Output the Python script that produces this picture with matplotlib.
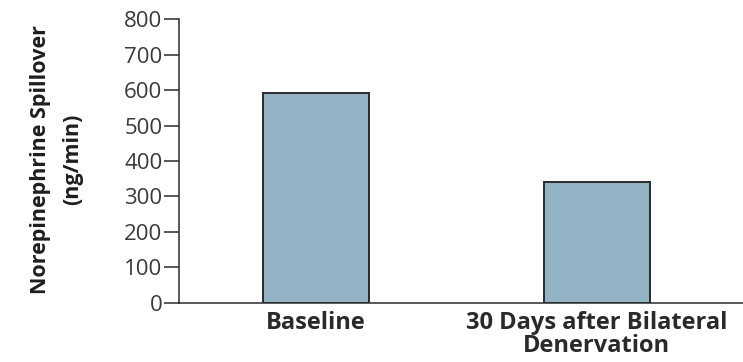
import matplotlib
matplotlib.use("Agg")
import matplotlib.pyplot as plt

categories = ["Baseline", "30 Days after Bilateral\nDenervation"]
values = [592, 341]
yticks = [0, 100, 200, 300, 400, 500, 600, 700, 800]

plt.rcParams["font.family"] = ["Open Sans", "DejaVu Sans"]

fig = plt.figure(figsize=(7.43, 3.62), dpi=100)
ax = fig.add_axes([0.241, 0.163, 0.759, 0.7845])

x = list(range(len(categories)))
ax.bar(x, values, width=0.375, color="#93b2c4", edgecolor="#2b2b2b", linewidth=1.4, zorder=3)

ax.set_ylim(0, 800)
ax.set_xlim(-0.4875, 1.52)
ax.set_yticks(yticks)
ax.set_yticklabels([str(v) for v in yticks], fontsize=16, color="#3a3a3a")
ax.set_xticks(x)
ax.set_xticklabels(categories, fontsize=17, fontweight="bold", color="#2a2a2a", linespacing=0.95)
ax.tick_params(axis="x", length=0, pad=6)
ax.tick_params(axis="y", length=11, width=1.1, color="#2b2b2b", pad=1)

for side in ["top", "right"]:
    ax.spines[side].set_visible(False)
for side in ["left", "bottom"]:
    ax.spines[side].set_linewidth(1.1)
    ax.spines[side].set_color("#2b2b2b")

ax.set_ylabel("Norepinephrine Spillover\n(ng/min)", fontsize=15.5, fontweight="bold",
              color="#1e1e1e", linespacing=1.7)
ax.yaxis.set_label_coords(-0.17, 0.505)

fig.savefig("out.png", dpi=100)
